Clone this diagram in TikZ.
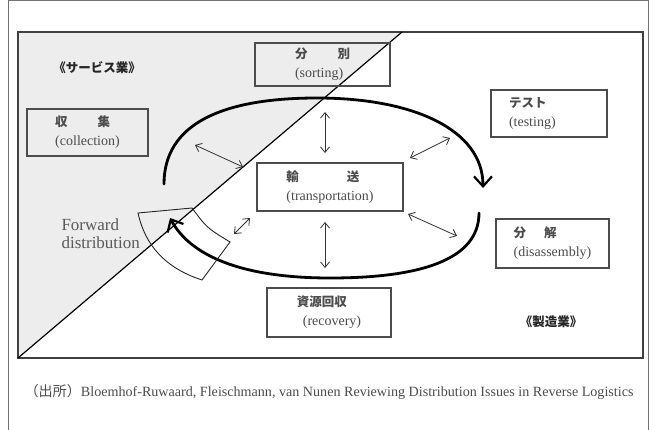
\documentclass[tikz,border=0pt]{standalone}
\usepackage{fontspec}
\setmainfont{Liberation Serif}
\newfontfamily\jp{Noto Sans CJK JP}
\usepackage{tikz}
\usetikzlibrary{arrows.meta, calc}

\tikzset{
  procbox/.style={draw=black!70, line width=1.1pt, align=left, inner sep=0pt, text=black!70, font=\fontsize{14}{19}\selectfont},
  thinarr/.style={{Straight Barb[length=5.5pt,width=9pt]}-{Straight Barb[length=5.5pt,width=9pt]}, line width=0.8pt, black!80},
  bigarr/.style={-{Straight Barb[length=10pt,width=18pt,line width=2.2pt]}, line width=2.8pt, line cap=round},
}
\newcommand{\jtxt}[1]{{\jp\bfseries\fontsize{12.5}{19}\selectfont #1}}

\begin{document}
\begin{tikzpicture}[x=1pt, y=-1pt]
	\useasboundingbox (0,0) rectangle (655,430);
	\fill[white] (0,0) rectangle (655,430);
	\draw[black!55, line width=0.8pt] (8,430) -- (8,0.5) -- (648,0.5) -- (648,430);
	
	\fill[black!7] (18,32) -- (402,32) -- (18,358) -- cycle;
	\draw[black!75, line width=1.2pt] (18,32) rectangle (643,358);
	\draw[line width=1.2pt] (18,358) -- (402,32);
	
	\node[procbox, minimum width=135pt, minimum height=43pt] (srt) at (322.5,64.5) {\jtxt{分\hspace{30pt}別}\\(sorting)};
	\node[procbox, minimum width=121pt, minimum height=47pt] (col) at (87.5,132.5) {\jtxt{収\hspace{30pt}集}\\(collection)};
	\node[procbox, minimum width=146pt, minimum height=48pt] (trn) at (330,187) {\jtxt{輸\hspace{48pt}送}\\(transportation)};
	\node[procbox, minimum width=116pt, minimum height=47pt, text width=80pt] (tst) at (549,113.5) {\jtxt{テスト}\\(testing)};
	\node[procbox, minimum width=113pt, minimum height=49pt] (dis) at (552.5,243.5) {\jtxt{分\hspace{18pt}解}\\(disassembly)};
	\node[procbox, minimum width=124pt, minimum height=49pt] (rec) at (329,312.5) {\jtxt{資源回収}\\\hspace*{6pt}(recovery)};
	
	\node[font=\jp\bfseries\fontsize{12.5}{15}\selectfont, text=black!85] (svc) at (97,68) {《サービス業》};
	\node[font=\jp\bfseries\fontsize{12.5}{15}\selectfont, text=black!85] (mfg) at (551,322) {《製造業》};
	\node[anchor=west, align=left, text=black!65, font=\fontsize{17}{18}\selectfont] (fwd) at (58,234) {Forward\\distribution};
	\node[anchor=west, text=black!70, font=\fontsize{14.1}{16}\selectfont] (src) at (21,392) {{\jp （出所）}Bloemhof-Ruwaard, Fleischmann, van Nunen Reviewing Distribution Issues in Reverse Logistics};
	
	\draw[bigarr] (164,184) .. controls (164,125) and (220,98) .. (317,98) .. controls (414,98) and (483,130) .. (483,188);
	\draw[bigarr] (479,213) .. controls (479,260) and (420,278) .. (330,278) .. controls (240,278) and (190,255) .. (170,218);
	
	\draw[black!85, line width=0.9pt] (138,213) -- (192,208) .. controls (207,228) .. (230,242) -- (202,280) .. controls (165,268) and (145,245) .. (138,213) -- cycle;
	
	\coordinate (a1) at (325,112); \coordinate (b1) at (325,153);
	\coordinate (a2) at (195,145); \coordinate (b2) at (243,167);
	\coordinate (a3) at (450,138); \coordinate (b3) at (410,158);
	\coordinate (a4) at (457,236); \coordinate (b4) at (408,214);
	\coordinate (a5) at (325,268); \coordinate (b5) at (325,222);
	\coordinate (a6) at (234,234); \coordinate (b6) at (250,218);
	\foreach \i in {1,...,6}
		\draw[thinarr] (a\i) -- (b\i);
\end{tikzpicture}
\end{document}
